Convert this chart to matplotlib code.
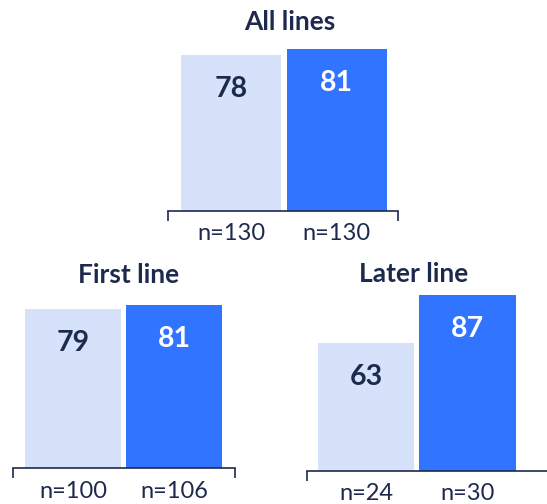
import matplotlib
matplotlib.use("Agg")
import matplotlib.pyplot as plt
from matplotlib.ticker import FixedLocator

plt.rcParams["font.family"] = ["Lato", "DejaVu Sans"]

# Response rates (%) for the two arms in each patient group
panel_titles = ["All lines", "First line", "Later line"]
control_values = [78, 79, 63]
treated_values = [81, 81, 87]
control_n = [130, 100, 24]
treated_n = [130, 106, 30]

NAVY = "#1E2A4D"
LIGHT = "#D6E2FA"
BLUE = "#3174FF"

W, H = 547, 504
fig = plt.figure(figsize=(W / 100, H / 100), dpi=100)


def px_axes(left, bottom_from_top, width, height):
    """Create axes from pixel geometry (baseline measured from the top edge)."""
    return fig.add_axes([left / W, (H - bottom_from_top) / H, width / W, height / H])


# (left px, baseline px from top, width px, height px, xlim)
layout = [
    (168.0, 211.0, 230.0, 200.0, (-0.6, 1.58)),
    (12.5, 468.3, 222.2, 201.6, (-0.6, 1.6)),
    (307.0, 470.7, 241.6, 202.0, (-0.58, 1.8)),
]
title_pos = [(290, 30), (129, 283), (413.5, 282.3)]

for i in range(3):
    left, base, width, height, xlim = layout[i]
    ax = px_axes(left, base, width, height)
    vals = [control_values[i], treated_values[i]]
    ax.bar([0, 1], vals, width=0.95, color=[LIGHT, BLUE], zorder=2)
    ax.set_xlim(*xlim)
    ax.set_ylim(0, 100)

    for x, v, c in zip([0, 1], vals, [NAVY, "white"]):
        ax.annotate(str(v), xy=(x, v), xytext=(0, -30), textcoords="offset points",
                    ha="center", va="baseline", fontsize=20.5, fontweight="bold",
                    color=c, zorder=3)

    for s in ("top", "left", "right"):
        ax.spines[s].set_visible(False)
    ax.spines["bottom"].set_color(NAVY)
    ax.spines["bottom"].set_linewidth(1.2)
    ax.set_yticks([])

    ax.set_xticks([0, 1])
    ax.set_xticklabels([f"n={control_n[i]}", f"n={treated_n[i]}"],
                       fontsize=17, color=NAVY)
    ax.tick_params(axis="x", which="major", length=0, pad=9)
    ax.xaxis.set_minor_locator(FixedLocator(list(xlim)))
    ax.tick_params(axis="x", which="minor", length=7.5, width=1.2,
                   color=NAVY, direction="out")
    ax.patch.set_visible(False)

    tx, ty = title_pos[i]
    fig.text(tx / W, 1 - ty / H, panel_titles[i], ha="center", va="baseline",
             fontsize=19, fontweight="bold", color=NAVY)

fig.savefig("out.png", dpi=100)
